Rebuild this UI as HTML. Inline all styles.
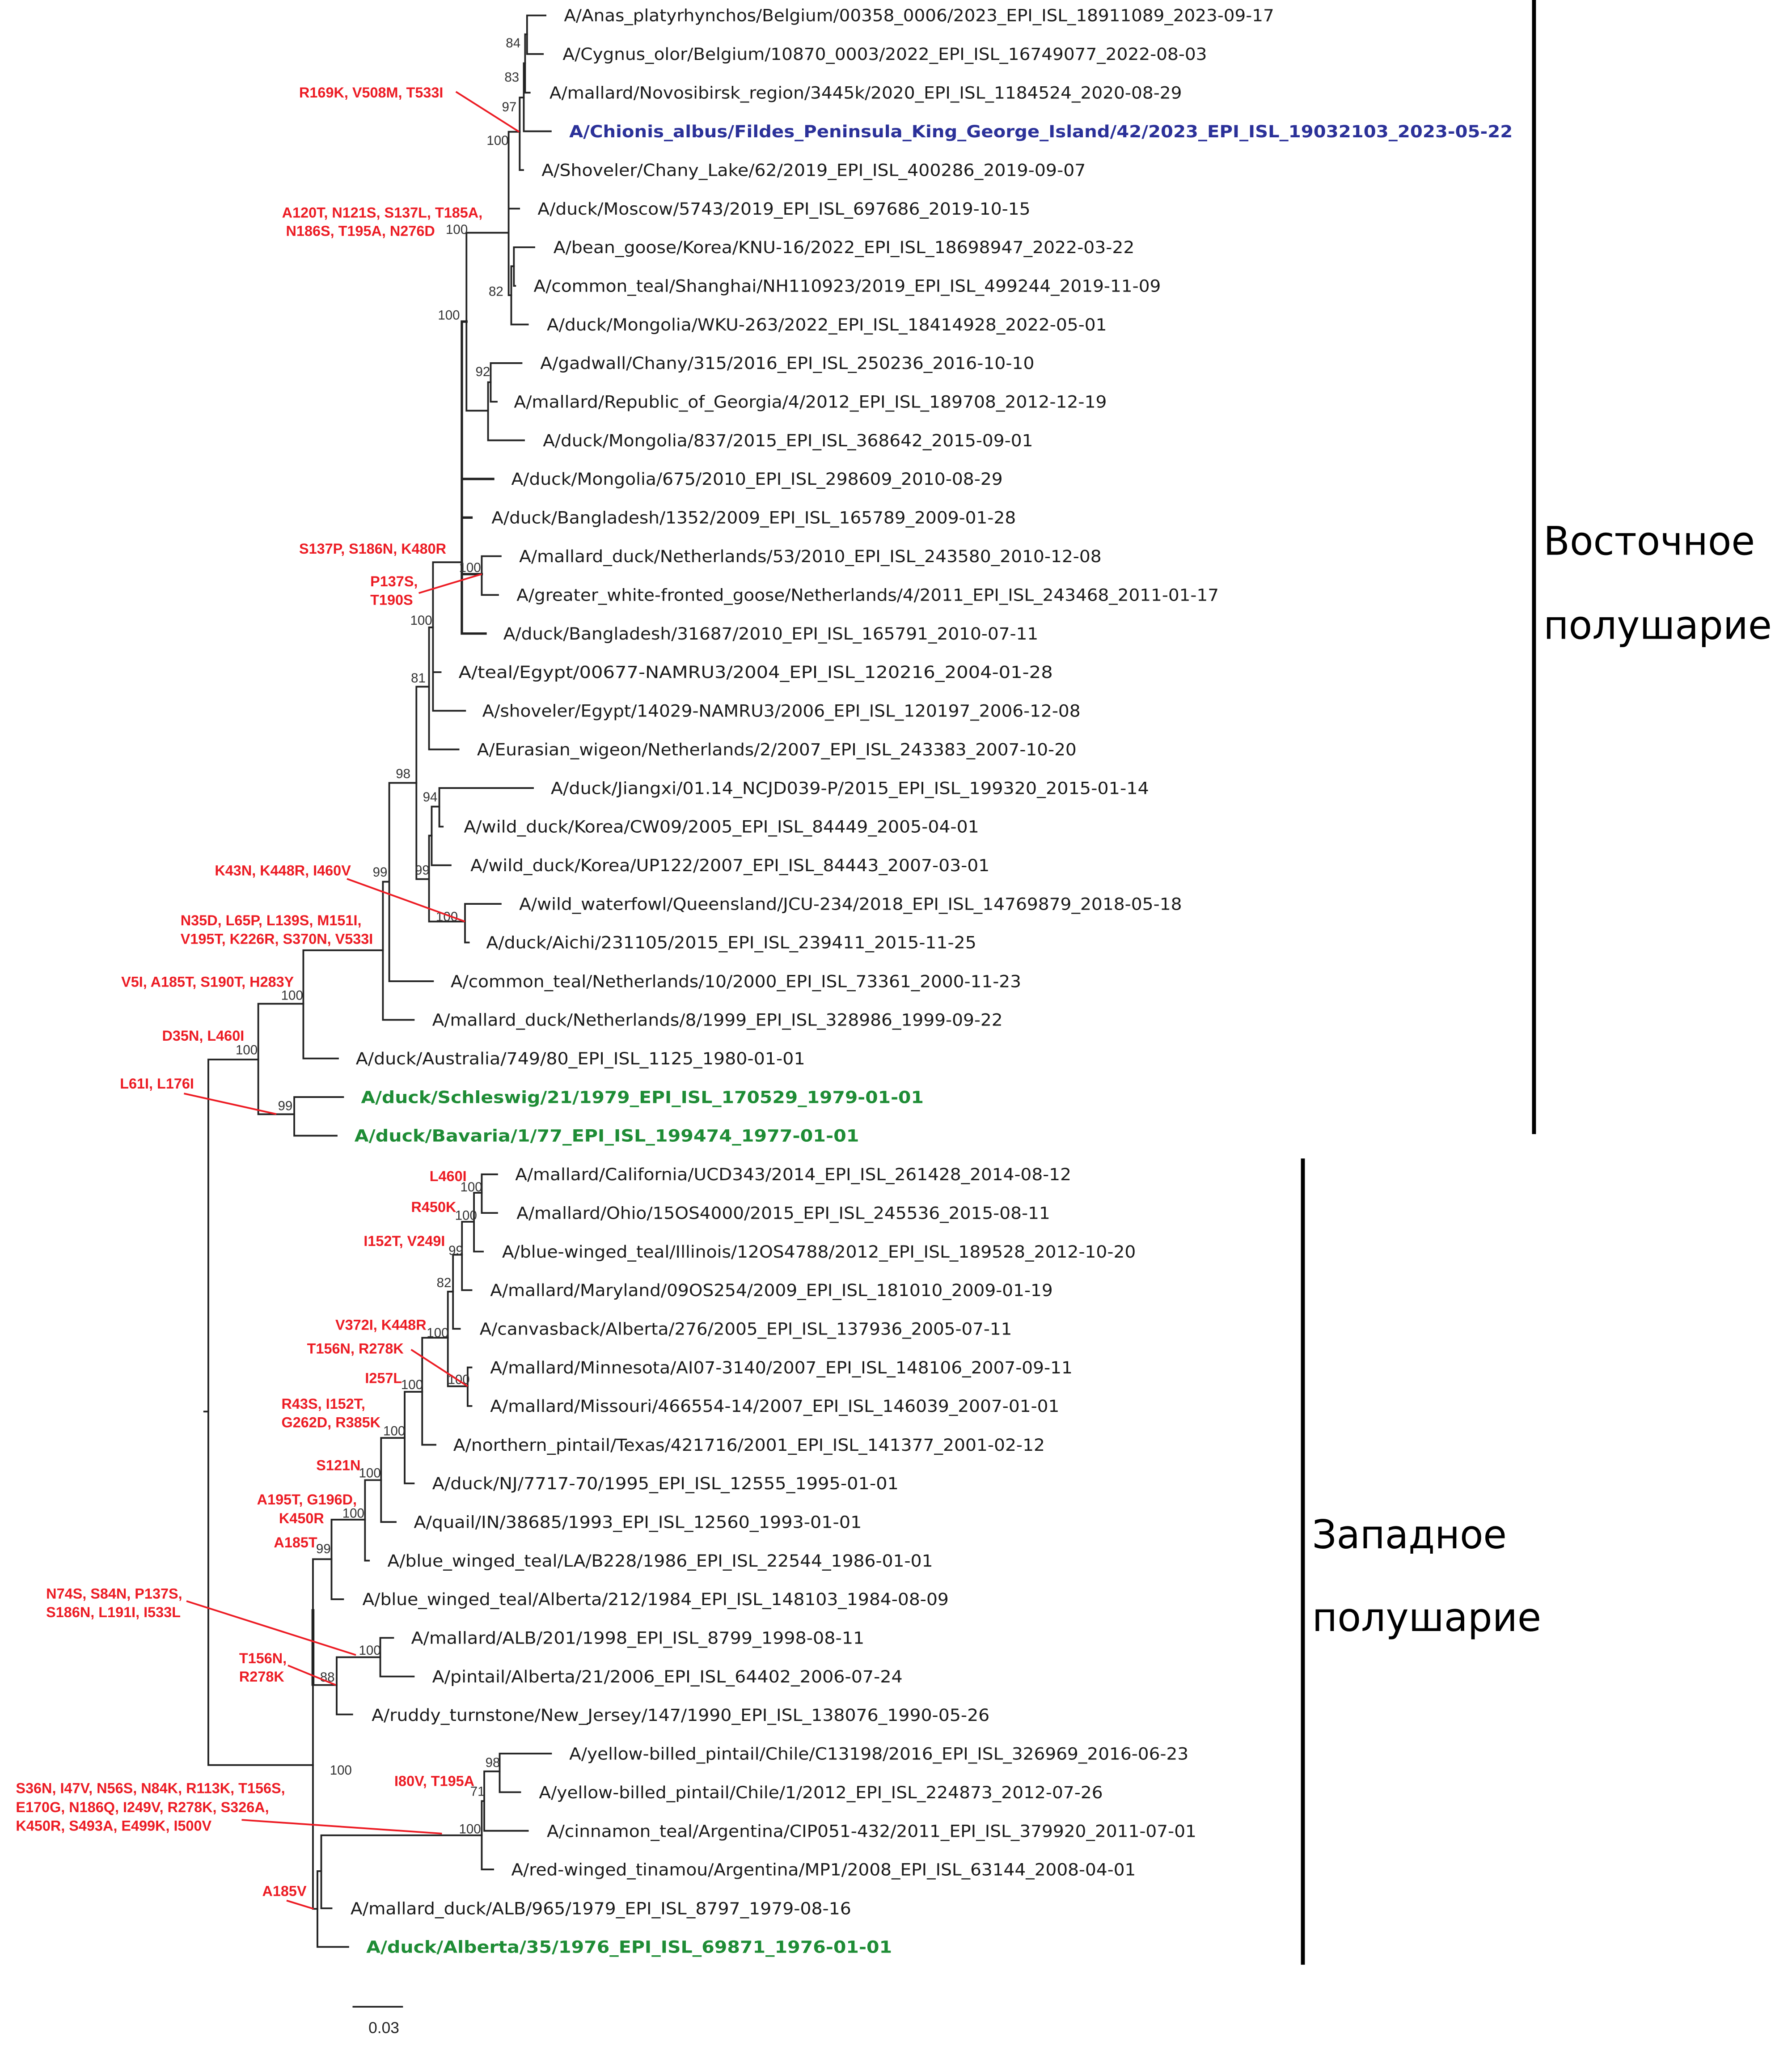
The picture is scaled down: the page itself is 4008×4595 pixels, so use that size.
<!DOCTYPE html>
<html><head><meta charset="utf-8"><style>
html,body{margin:0;padding:0;background:#fff;}
svg{display:block;}
.l{font-family:"DejaVu Sans","Liberation Sans",sans-serif;font-size:12.6px;fill:#1a1a1a;}
.b{font-family:"DejaVu Sans","Liberation Sans",sans-serif;font-size:12.6px;font-weight:bold;}
.bs{font-family:"Liberation Sans",sans-serif;font-size:10px;fill:#333;text-anchor:end;}
.r{font-family:"Liberation Sans",sans-serif;font-size:11px;font-weight:bold;fill:#ec1c24;}
.h{font-family:"DejaVu Sans","Liberation Sans",sans-serif;font-size:30px;fill:#000;}
</style></head><body>
<svg width="4008" height="4595" viewBox="0 0 1360 1559.2" xmlns="http://www.w3.org/2000/svg">
<rect width="1360" height="1559.2" fill="#fff"/>
<g stroke="#222" stroke-width="1.3" fill="none" stroke-linecap="square">
<!-- eastern -->
<path d="M400,11.7V41M400,11.7H414M400,41H412"/>
<path d="M398.5,26V70.3M398.5,26H400M398.5,70.3H402"/>
<path d="M397.5,48V99.6M397.5,48H398.5M397.5,99.6H418"/>
<path d="M394.4,74V129M394.4,74H397.5M394.4,129H397"/>
<path d="M386,100V224M386,100H394.4M386,158.3H394M386,224H388"/>
<path d="M390,187.6V216.9M390,187.6H405.5M390,216.9H391"/>
<path d="M388,202V246.2M388,202H390M388,246.2H400.6"/>
<path d="M354,176.6V311.6M354,176.6H386M354,311.6H370.4"/>
<path d="M370.4,290V334.1M370.4,290H372.4M370.4,334.1H397.7"/>
<path d="M372.4,275.5V304.8M372.4,275.5H395.8M372.4,304.8H377"/>
<path d="M350.5,244V480.7M350.5,244H354M350.5,363.4H374.3M350.5,392.7H357.8M350.5,435.6H365.6M350.5,480.7H368.5" stroke-width="1.8"/>
<path d="M365.6,422V451.4M365.6,422H380M365.6,451.4H378"/>
<path d="M328.6,426.6V539.3M328.6,426.6H350.5M328.6,510H334.4M328.6,539.3H353"/>
<path d="M325.6,476V568.6M325.6,476H328.6M325.6,568.6H348"/>
<path d="M316,521V667M316,521H325.6M316,667H325.6"/>
<path d="M325.6,634V699.2M325.6,634H327.6M325.6,699.2H352.9"/>
<path d="M327.6,612V656.5M327.6,612H333.4M327.6,656.5H342"/>
<path d="M333.4,597.9V627.2M333.4,597.9H404.5M333.4,627.2H336"/>
<path d="M352.9,685.8V715.1M352.9,685.8H380M352.9,715.1H355.8"/>
<path d="M295.4,594V744.5M295.4,594H316M295.4,744.5H328.6"/>
<path d="M290.6,669V773.8M290.6,669H295.4M290.6,773.8H314"/>
<path d="M230.2,721V803.1M230.2,721H290.6M230.2,803.1H256.5"/>
<path d="M196,761.6V845.4M196,761.6H230.2M196,845.4H223.3"/>
<path d="M223.3,832.4V861.7M223.3,832.4H260.4M223.3,861.7H255.5"/>
<path d="M158.1,803.9V1339.2M158.1,803.9H196M158.1,1339.2H237.5M155,1071H158.1"/>
<!-- western -->
<path d="M365.6,891V920.3M365.6,891H377.3M365.6,920.3H377.3"/>
<path d="M359.7,905V949.6M359.7,905H365.6M359.7,949.6H366.5"/>
<path d="M350.6,927V978.9M350.6,927H359.7M350.6,978.9H357.8"/>
<path d="M343.8,952V1008.2M343.8,952H350.6M343.8,1008.2H349"/>
<path d="M339.9,980V1051.8M339.9,980H343.8M339.9,1051.8H354.9"/>
<path d="M354.9,1037.5V1066.8M354.9,1037.5H357.8M354.9,1066.8H357.8"/>
<path d="M320.4,1015V1096.2M320.4,1015H339.9M320.4,1096.2H330.5"/>
<path d="M307.1,1056V1125.5M307.1,1056H320.4M307.1,1125.5H314"/>
<path d="M289.2,1091V1154.8M289.2,1091H307.1M289.2,1154.8H300.3"/>
<path d="M277,1123V1184.1M277,1123H289.2M277,1184.1H280"/>
<path d="M251.6,1153V1213.4M251.6,1153H277M251.6,1213.4H260.4"/>
<path d="M237.5,1183V1448.3M237.5,1183H251.6M237.5,1278.5H255.5M237.5,1448.3H240.9"/>
<path d="M237.5,1222V1278" stroke-width="2.2"/>
<path d="M255.5,1257.4V1300.8M255.5,1257.4H288.6M255.5,1300.8H267.3"/>
<path d="M288.6,1242.7V1272M288.6,1242.7H298.4M288.6,1272H314"/>
<path d="M240.9,1419.7V1477.2M240.9,1419.7H243.8M240.9,1477.2H264.3"/>
<path d="M243.8,1392.5V1447.9M243.8,1392.5H365.6M243.8,1447.9H251.6"/>
<path d="M365.6,1366.5V1418.4M365.6,1366.5H367.5M365.6,1418.4H374.3"/>
<path d="M367.5,1344V1389.1M367.5,1344H379.2M367.5,1389.1H400.6"/>
<path d="M379.2,1330.5V1359.8M379.2,1330.5H418.2M379.2,1359.8H394.8"/>
<!-- scale -->
<path d="M268.2,1522.6H305.2"/>
</g>
<!-- hemisphere bars -->
<g stroke="#000" stroke-width="3">
<line x1="1164.2" y1="0" x2="1164.2" y2="860.5"/>
<line x1="988.8" y1="879" x2="988.8" y2="1490.7"/>
</g>
<text class="h" x="1171.4" y="421" textLength="160.5" lengthAdjust="spacingAndGlyphs">Восточное</text>
<text class="h" x="1171.4" y="484.8" textLength="173.3" lengthAdjust="spacingAndGlyphs">полушарие</text>
<text class="h" x="995.8" y="1174.8" textLength="147.7" lengthAdjust="spacingAndGlyphs">Западное</text>
<text class="h" x="995.8" y="1237.5" textLength="173.9" lengthAdjust="spacingAndGlyphs">полушарие</text>

<!-- leaf labels -->
<g class="l" lengthAdjust="spacingAndGlyphs">
<text x="428" y="16.2" textLength="539" lengthAdjust="spacingAndGlyphs">A/Anas_platyrhynchos/Belgium/00358_0006/2023_EPI_ISL_18911089_2023-09-17</text>
<text x="427" y="45.5" textLength="489" lengthAdjust="spacingAndGlyphs">A/Cygnus_olor/Belgium/10870_0003/2022_EPI_ISL_16749077_2022-08-03</text>
<text x="417" y="74.8" textLength="480" lengthAdjust="spacingAndGlyphs">A/mallard/Novosibirsk_region/3445k/2020_EPI_ISL_1184524_2020-08-29</text>
<text x="411" y="133.5" textLength="413" lengthAdjust="spacingAndGlyphs">A/Shoveler/Chany_Lake/62/2019_EPI_ISL_400286_2019-09-07</text>
<text x="408" y="162.8" textLength="374" lengthAdjust="spacingAndGlyphs">A/duck/Moscow/5743/2019_EPI_ISL_697686_2019-10-15</text>
<text x="420" y="192.1" textLength="441" lengthAdjust="spacingAndGlyphs">A/bean_goose/Korea/KNU-16/2022_EPI_ISL_18698947_2022-03-22</text>
<text x="405" y="221.4" textLength="476" lengthAdjust="spacingAndGlyphs">A/common_teal/Shanghai/NH110923/2019_EPI_ISL_499244_2019-11-09</text>
<text x="415" y="250.7" textLength="425" lengthAdjust="spacingAndGlyphs">A/duck/Mongolia/WKU-263/2022_EPI_ISL_18414928_2022-05-01</text>
<text x="410" y="280" textLength="375" lengthAdjust="spacingAndGlyphs">A/gadwall/Chany/315/2016_EPI_ISL_250236_2016-10-10</text>
<text x="390" y="309.3" textLength="450" lengthAdjust="spacingAndGlyphs">A/mallard/Republic_of_Georgia/4/2012_EPI_ISL_189708_2012-12-19</text>
<text x="412" y="338.6" textLength="372" lengthAdjust="spacingAndGlyphs">A/duck/Mongolia/837/2015_EPI_ISL_368642_2015-09-01</text>
<text x="388" y="367.9" textLength="373" lengthAdjust="spacingAndGlyphs">A/duck/Mongolia/675/2010_EPI_ISL_298609_2010-08-29</text>
<text x="373" y="397.2" textLength="398" lengthAdjust="spacingAndGlyphs">A/duck/Bangladesh/1352/2009_EPI_ISL_165789_2009-01-28</text>
<text x="394" y="426.5" textLength="442" lengthAdjust="spacingAndGlyphs">A/mallard_duck/Netherlands/53/2010_EPI_ISL_243580_2010-12-08</text>
<text x="392" y="455.9" textLength="533" lengthAdjust="spacingAndGlyphs">A/greater_white-fronted_goose/Netherlands/4/2011_EPI_ISL_243468_2011-01-17</text>
<text x="382" y="485.2" textLength="406" lengthAdjust="spacingAndGlyphs">A/duck/Bangladesh/31687/2010_EPI_ISL_165791_2010-07-11</text>
<text x="348" y="514.5" textLength="451" lengthAdjust="spacingAndGlyphs">A/teal/Egypt/00677-NAMRU3/2004_EPI_ISL_120216_2004-01-28</text>
<text x="366" y="543.8" textLength="454" lengthAdjust="spacingAndGlyphs">A/shoveler/Egypt/14029-NAMRU3/2006_EPI_ISL_120197_2006-12-08</text>
<text x="362" y="573.1" textLength="455" lengthAdjust="spacingAndGlyphs">A/Eurasian_wigeon/Netherlands/2/2007_EPI_ISL_243383_2007-10-20</text>
<text x="418" y="602.4" textLength="454" lengthAdjust="spacingAndGlyphs">A/duck/Jiangxi/01.14_NCJD039-P/2015_EPI_ISL_199320_2015-01-14</text>
<text x="352" y="631.7" textLength="391" lengthAdjust="spacingAndGlyphs">A/wild_duck/Korea/CW09/2005_EPI_ISL_84449_2005-04-01</text>
<text x="357" y="661" textLength="394" lengthAdjust="spacingAndGlyphs">A/wild_duck/Korea/UP122/2007_EPI_ISL_84443_2007-03-01</text>
<text x="394" y="690.3" textLength="503" lengthAdjust="spacingAndGlyphs">A/wild_waterfowl/Queensland/JCU-234/2018_EPI_ISL_14769879_2018-05-18</text>
<text x="369" y="719.6" textLength="372" lengthAdjust="spacingAndGlyphs">A/duck/Aichi/231105/2015_EPI_ISL_239411_2015-11-25</text>
<text x="342" y="749" textLength="433" lengthAdjust="spacingAndGlyphs">A/common_teal/Netherlands/10/2000_EPI_ISL_73361_2000-11-23</text>
<text x="328" y="778.3" textLength="433" lengthAdjust="spacingAndGlyphs">A/mallard_duck/Netherlands/8/1999_EPI_ISL_328986_1999-09-22</text>
<text x="270" y="807.6" textLength="341" lengthAdjust="spacingAndGlyphs">A/duck/Australia/749/80_EPI_ISL_1125_1980-01-01</text>
<text x="391" y="895.5" textLength="422" lengthAdjust="spacingAndGlyphs">A/mallard/California/UCD343/2014_EPI_ISL_261428_2014-08-12</text>
<text x="392" y="924.8" textLength="405" lengthAdjust="spacingAndGlyphs">A/mallard/Ohio/15OS4000/2015_EPI_ISL_245536_2015-08-11</text>
<text x="381" y="954.1" textLength="481" lengthAdjust="spacingAndGlyphs">A/blue-winged_teal/Illinois/12OS4788/2012_EPI_ISL_189528_2012-10-20</text>
<text x="372" y="983.4" textLength="427" lengthAdjust="spacingAndGlyphs">A/mallard/Maryland/09OS254/2009_EPI_ISL_181010_2009-01-19</text>
<text x="364" y="1012.7" textLength="404" lengthAdjust="spacingAndGlyphs">A/canvasback/Alberta/276/2005_EPI_ISL_137936_2005-07-11</text>
<text x="372" y="1042" textLength="442" lengthAdjust="spacingAndGlyphs">A/mallard/Minnesota/AI07-3140/2007_EPI_ISL_148106_2007-09-11</text>
<text x="372" y="1071.3" textLength="432" lengthAdjust="spacingAndGlyphs">A/mallard/Missouri/466554-14/2007_EPI_ISL_146039_2007-01-01</text>
<text x="344" y="1100.7" textLength="449" lengthAdjust="spacingAndGlyphs">A/northern_pintail/Texas/421716/2001_EPI_ISL_141377_2001-02-12</text>
<text x="328" y="1130" textLength="354" lengthAdjust="spacingAndGlyphs">A/duck/NJ/7717-70/1995_EPI_ISL_12555_1995-01-01</text>
<text x="314" y="1159.3" textLength="340" lengthAdjust="spacingAndGlyphs">A/quail/IN/38685/1993_EPI_ISL_12560_1993-01-01</text>
<text x="294" y="1188.6" textLength="414" lengthAdjust="spacingAndGlyphs">A/blue_winged_teal/LA/B228/1986_EPI_ISL_22544_1986-01-01</text>
<text x="275" y="1217.9" textLength="445" lengthAdjust="spacingAndGlyphs">A/blue_winged_teal/Alberta/212/1984_EPI_ISL_148103_1984-08-09</text>
<text x="312" y="1247.2" textLength="344" lengthAdjust="spacingAndGlyphs">A/mallard/ALB/201/1998_EPI_ISL_8799_1998-08-11</text>
<text x="328" y="1276.5" textLength="357" lengthAdjust="spacingAndGlyphs">A/pintail/Alberta/21/2006_EPI_ISL_64402_2006-07-24</text>
<text x="282" y="1305.8" textLength="469" lengthAdjust="spacingAndGlyphs">A/ruddy_turnstone/New_Jersey/147/1990_EPI_ISL_138076_1990-05-26</text>
<text x="432" y="1335.1" textLength="470" lengthAdjust="spacingAndGlyphs">A/yellow-billed_pintail/Chile/C13198/2016_EPI_ISL_326969_2016-06-23</text>
<text x="409" y="1364.4" textLength="428" lengthAdjust="spacingAndGlyphs">A/yellow-billed_pintail/Chile/1/2012_EPI_ISL_224873_2012-07-26</text>
<text x="415" y="1393.7" textLength="493" lengthAdjust="spacingAndGlyphs">A/cinnamon_teal/Argentina/CIP051-432/2011_EPI_ISL_379920_2011-07-01</text>
<text x="388" y="1423" textLength="474" lengthAdjust="spacingAndGlyphs">A/red-winged_tinamou/Argentina/MP1/2008_EPI_ISL_63144_2008-04-01</text>
<text x="266" y="1452.4" textLength="380" lengthAdjust="spacingAndGlyphs">A/mallard_duck/ALB/965/1979_EPI_ISL_8797_1979-08-16</text>
</g>
<text class="b" x="432" y="104.1" fill="#2b3199" textLength="716" lengthAdjust="spacingAndGlyphs">A/Chionis_albus/Fildes_Peninsula_King_George_Island/42/2023_EPI_ISL_19032103_2023-05-22</text>
<text class="b" x="274" y="836.9" fill="#1e8c35" textLength="427" lengthAdjust="spacingAndGlyphs">A/duck/Schleswig/21/1979_EPI_ISL_170529_1979-01-01</text>
<text class="b" x="269" y="866.2" fill="#1e8c35" textLength="383" lengthAdjust="spacingAndGlyphs">A/duck/Bavaria/1/77_EPI_ISL_199474_1977-01-01</text>
<text class="b" x="278" y="1481.7" fill="#1e8c35" textLength="399" lengthAdjust="spacingAndGlyphs">A/duck/Alberta/35/1976_EPI_ISL_69871_1976-01-01</text>

<!-- bootstrap -->
<g class="bs">
<text x="395" y="36">84</text><text x="394" y="62">83</text><text x="392" y="84.5">97</text>
<text x="386" y="110">100</text><text x="355" y="177.5">100</text><text x="382" y="224.5">82</text>
<text x="349" y="242.5">100</text><text x="372" y="285.3">92</text>
<text x="365" y="434">100</text><text x="328" y="474">100</text><text x="323" y="517.8">81</text>
<text x="311.5" y="590.5">98</text><text x="332" y="608">94</text><text x="326" y="663.5">99</text>
<text x="294" y="665">99</text><text x="347.5" y="698.8">100</text><text x="230" y="758.5">100</text>
<text x="195.5" y="800">100</text><text x="222" y="842.3">99</text>
<text x="366" y="904">100</text><text x="362" y="925.5">100</text><text x="351.5" y="952.2">99</text>
<text x="342.5" y="976.5">82</text><text x="340.5" y="1014.5">100</text><text x="356.5" y="1050">100</text>
<text x="321" y="1054">100</text><text x="307.5" y="1089">100</text><text x="289" y="1121">100</text>
<text x="276.5" y="1151.5">100</text><text x="251" y="1178.5">99</text>
<text x="289" y="1255.5">100</text><text x="254" y="1275.8">88</text>
<text x="379.5" y="1340.7">98</text><text x="368" y="1362.5">71</text><text x="365" y="1391">100</text>
<text x="267" y="1346.5">100</text>
</g>
<text class="bs" x="303" y="1542.5" style="font-size:12px;text-anchor:end;fill:#222">0.03</text>

<!-- red mutation labels -->
<g class="r">
<text x="227" y="74">R169K, V508M, T533I</text>
<text x="214" y="165">A120T, N121S, S137L, T185A,</text>
<text x="217" y="179">N186S, T195A, N276D</text>
<text x="227" y="420">S137P, S186N, K480R</text>
<text x="281" y="444.8">P137S,</text>
<text x="281" y="459">T190S</text>
<text x="163" y="664.3">K43N, K448R, I460V</text>
<text x="137" y="702">N35D, L65P, L139S, M151I,</text>
<text x="137" y="716.2">V195T, K226R, S370N, V533I</text>
<text x="92" y="748.7">V5I, A185T, S190T, H283Y</text>
<text x="123" y="789.6">D35N, L460I</text>
<text x="91" y="826">L61I, L176I</text>
<text x="326" y="896.1">L460I</text>
<text x="312" y="919.5">R450K</text>
<text x="276" y="945.4">I152T, V249I</text>
<text x="254.5" y="1009">V372I, K448R</text>
<text x="233" y="1027">T156N, R278K</text>
<text x="277" y="1049.3">I257L</text>
<text x="213.6" y="1068.8">R43S, I152T,</text>
<text x="213.6" y="1083">G262D, R385K</text>
<text x="240" y="1115.5">S121N</text>
<text x="195" y="1141.5">A195T, G196D,</text>
<text x="211.7" y="1155.8">K450R</text>
<text x="207.8" y="1174">A185T</text>
<text x="35" y="1213">N74S, S84N, P137S,</text>
<text x="35" y="1227">S186N, L191I, I533L</text>
<text x="181.5" y="1262">T156N,</text>
<text x="181.5" y="1275.8">R278K</text>
<text x="299.3" y="1355.1">I80V, T195A</text>
<text x="12" y="1360.6">S36N, I47V, N56S, N84K, R113K, T156S,</text>
<text x="12" y="1375">E170G, N186Q, I249V, R278K, S326A,</text>
<text x="12" y="1389">K450R, S493A, E499K, I500V</text>
<text x="199" y="1438.6">A185V</text>
</g>
<g stroke="#ec1c24" stroke-width="1.3">
<line x1="346" y1="69.6" x2="394" y2="100"/>
<line x1="317.8" y1="450" x2="365.6" y2="435.6"/>
<line x1="263.3" y1="666.8" x2="352.9" y2="699.2"/>
<line x1="139.6" y1="829.7" x2="209.7" y2="845.3"/>
<line x1="312" y1="1024" x2="354.9" y2="1051.8"/>
<line x1="141.5" y1="1214.8" x2="270.1" y2="1255.7"/>
<line x1="218.5" y1="1263.6" x2="254.9" y2="1278.5"/>
<line x1="183.4" y1="1380.8" x2="335.4" y2="1391.2"/>
<line x1="217.5" y1="1442" x2="238" y2="1448.3"/>
</g>
</svg>
</body></html>
